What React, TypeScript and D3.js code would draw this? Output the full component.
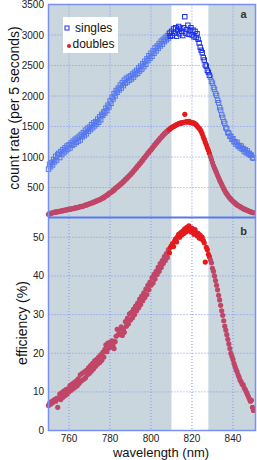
import React from 'react';
import * as d3 from 'd3';

// wavelength grid of the scan (nm)
const startNm = 750;
const stepNm = 0.5;

// singles counts per 5 s, 750 .. 850 nm
const singles = [
  800, 880, 840, 910, 870, 960, 920, 1010, 950, 1040,
  1060, 990, 1090, 1040, 1120, 1070, 1150, 1100, 1180, 1130,
  1200, 1150, 1230, 1190, 1260, 1210, 1290, 1240, 1310, 1260,
  1340, 1280, 1370, 1330, 1400, 1350, 1440, 1380, 1470, 1420,
  1490, 1450, 1530, 1480, 1560, 1510, 1580, 1540, 1620, 1570,
  1660, 1610, 1700, 1680, 1740, 1720, 1800, 1760, 1850, 1820,
  1920, 1880, 1980, 1950, 2040, 2000, 2090, 2060, 2130, 2100,
  2180, 2130, 2220, 2170, 2260, 2210, 2290, 2230, 2310, 2260,
  2330, 2280, 2360, 2310, 2390, 2350, 2420, 2370, 2460, 2410,
  2490, 2440, 2530, 2480, 2570, 2520, 2610, 2580, 2660, 2620,
  2700, 2650, 2740, 2700, 2790, 2740, 2820, 2780, 2860, 2820,
  2900, 2850, 2930, 2890, 2960, 2920, 2990, 2950, 3030, 2980,
  3060, 2990, 3100, 3030, 3120, 2980, 3080, 3140, 3020, 3110,
  3060, 2990, 3120, 3300, 3030, 3090, 3160, 3010, 3070, 3120,
  3000, 3080, 2970, 3060, 2960, 3020, 2930, 2870, 2800, 2750,
  2710, 2630, 2590, 2510, 2490, 2420, 2390, 2340, 2310, 2240,
  2210, 2140, 2110, 2040, 2010, 1930, 1890, 1810, 1770, 1690,
  1650, 1580, 1550, 1480, 1460, 1400, 1390, 1340, 1340, 1290,
  1300, 1250, 1250, 1210, 1240, 1180, 1190, 1150, 1180, 1130,
  1140, 1090, 1120, 1070, 1100, 1050, 1060, 1030, 1030, 990,
  980,
];

// doubles counts per 5 s
const doubles = [
  60, 75, 70, 80, 85, 90, 95, 100, 95, 105,
  110, 105, 115, 120, 118, 125, 130, 128, 135, 140,
  145, 142, 150, 155, 152, 160, 165, 170, 168, 175,
  180, 185, 190, 188, 195, 205, 210, 215, 220, 228,
  232, 240, 245, 250, 260, 265, 272, 280, 288, 295,
  300, 310, 318, 335, 330, 355, 360, 375, 380, 405,
  410, 425, 430, 455, 455, 485, 490, 510, 515, 540,
  545, 570, 575, 600, 605, 635, 640, 665, 675, 700,
  710, 735, 745, 775, 785, 815, 825, 855, 865, 895,
  905, 935, 945, 980, 990, 1020, 1035, 1065, 1075, 1105,
  1115, 1145, 1160, 1190, 1200, 1230, 1240, 1270, 1280, 1310,
  1320, 1345, 1355, 1385, 1390, 1415, 1420, 1445, 1450, 1470,
  1480, 1490, 1500, 1510, 1520, 1530, 1540, 1545, 1550, 1560,
  1555, 1565, 1570, 1700, 1575, 1580, 1570, 1585, 1575, 1560,
  1565, 1560, 1555, 1545, 1530, 1510, 1490, 1470, 1450, 1420,
  1380, 1330, 1290, 1240, 1200, 1150, 1110, 1060, 1010, 960,
  910, 860, 820, 780, 740, 700, 660, 620, 585, 550,
  515, 480, 450, 420, 395, 370, 348, 328, 308, 290,
  275, 260, 245, 230, 215, 205, 195, 185, 175, 165,
  155, 145, 140, 130, 125, 118, 110, 105, 95, 90,
  85,
];

// heralding efficiency (%)
const efficiency = [
  6.5, 7.0, 6.8, 7.5, 7.2, 7.8, 8.0, 7.6, 8.3, 6.0,
  8.2, 9.4, 8.0, 9.8, 8.6, 10.2, 9.0, 10.6, 9.4, 10.8,
  10.0, 11.6, 10.4, 12.0, 10.8, 12.4, 11.2, 12.8, 11.6, 13.4,
  12.2, 14.4, 12.8, 14.8, 13.2, 15.2, 13.6, 15.6, 14.4, 16.2,
  14.8, 16.8, 15.4, 17.4, 16.0, 18.0, 16.6, 18.4, 17.2, 19.0,
  17.6, 19.6, 18.2, 20.2, 19.0, 21.0, 22.2, 20.4, 22.6, 21.4,
  22.8, 21.6, 23.2, 22.0, 21.2, 23.0, 24.4, 26.2, 24.8, 26.0,
  25.0, 26.8, 24.6, 26.2, 25.4, 28.2, 27.0, 29.0, 27.6, 30.2,
  28.6, 30.6, 29.2, 31.4, 30.0, 32.2, 31.0, 33.0, 31.8, 34.0,
  32.6, 34.8, 33.6, 35.6, 34.4, 36.6, 35.2, 37.6, 36.4, 38.4,
  37.6, 39.6, 38.2, 40.4, 39.2, 41.2, 40.4, 42.2, 41.2, 43.2,
  42.2, 44.0, 43.2, 45.0, 44.0, 45.8, 44.8, 46.8, 46.0, 47.4,
  47.8, 48.4, 47.6, 49.0, 49.6, 48.8, 50.2, 50.8, 50.0, 51.2,
  50.6, 51.6, 51.0, 52.2, 51.4, 52.6, 51.8, 53.0, 52.0, 51.4,
  52.4, 51.6, 50.8, 52.0, 51.2, 50.4, 51.0, 49.8, 50.6, 49.6,
  50.0, 49.2, 48.6, 43.6, 47.4, 46.8, 45.6, 45.0, 44.2, 43.4,
  42.0, 41.2, 40.0, 38.8, 37.6, 36.4, 35.0, 33.8, 32.4, 31.0,
  29.8, 28.4, 27.0, 26.0, 24.8, 23.6, 22.4, 21.2, 20.0, 19.2,
  18.4, 17.4, 16.6, 15.8, 15.2, 14.4, 13.8, 13.0, 12.6, 12.0,
  11.8, 11.0, 10.6, 10.0, 9.4, 8.8, 8.2, 7.6, 7.8, 6.0,
  5.2,
];

const wavelengths = singles.map((_, i) => startNm + i * stepNm);

const xTicks = [760, 780, 800, 820, 840];
const countTicks = [500, 1000, 1500, 2000, 2500, 3000, 3500];
const effTicks = [0, 10, 20, 30, 40, 50];
const band = [810, 828]; // unshaded window
const peakZone = [809, 828.6]; // points drawn in the darker colours

const FONT = "'Liberation Sans', Arial, Helvetica, sans-serif";
const SHADE = '#c9d6de';
const FRAME = '#7890ee';
const GRID = '#8094f4';

export default function App() {
  const left = 48.5, right = 255.5;
  const x = d3.scaleLinear().domain([750, 851]).range([left, right]);
  const yTop = d3.scaleLinear().domain([0, 3500]).range([218, 4.5]);
  const yBot = d3.scaleLinear().domain([0, 55]).range([430.5, 218]);

  const inPeak = (w: number) => w >= peakZone[0] && w <= peakZone[1];

  const panel = (y: d3.ScaleLinear<number, number>, ticks: number[], skipTop: boolean) => {
    const [y0, y1] = y.range();
    return (
      <g>
        <rect x={left} y={y1} width={right - left} height={y0 - y1} fill={SHADE} />
        <rect x={x(band[0])} y={y1} width={x(band[1]) - x(band[0])} height={y0 - y1} fill="#fff" />
        {xTicks.map(t => (
          <line key={'v' + t} x1={x(t)} x2={x(t)} y1={y1} y2={y0} stroke={GRID} strokeWidth={1} strokeDasharray="1,2" />
        ))}
        {ticks.filter(t => t > 0 && !(skipTop && t === ticks[ticks.length - 1])).map(t => (
          <line key={'h' + t} x1={left} x2={right} y1={y(t)} y2={y(t)} stroke={GRID} strokeWidth={1} strokeDasharray="1,2" />
        ))}
        {ticks.map(t => (
          <text key={'l' + t} x={44} y={y(t)} dy="0.35em" textAnchor="end" fontSize={10} fill="#222" fontFamily={FONT}>{t}</text>
        ))}
      </g>
    );
  };

  return (
    <svg width={257} height={460} style={{ position: 'absolute', left: 0, top: 0 }}>
      <rect width={257} height={460} fill="#fff" />
      {panel(yTop, countTicks, true)}
      {panel(yBot, effTicks, false)}

      {/* singles: open squares */}
      {wavelengths.map((w, i) => (
        <rect key={'s' + i} x={x(w) - 2.2} y={yTop(singles[i]) - 2.2} width={4.4} height={4.4}
          fill="none" stroke={inPeak(w) ? '#1a2ee6' : '#5577ee'} strokeWidth={1} />
      ))}
      {/* doubles: filled dots */}
      {wavelengths.map((w, i) => (
        <circle key={'d' + i} cx={x(w)} cy={yTop(doubles[i])} r={2.6}
          fill={inPeak(w) ? '#e41a1c' : '#c04668'} />
      ))}
      {/* efficiency */}
      {wavelengths.map((w, i) => (
        <circle key={'e' + i} cx={x(w)} cy={yBot(efficiency[i])} r={2.6}
          fill={inPeak(w) ? '#e41a1c' : '#c04668'} />
      ))}

      {/* frames */}
      <rect x={left} y={4.5} width={right - left} height={426} fill="none" stroke={FRAME} strokeWidth={1.5} />
      <line x1={left} x2={right} y1={217.5} y2={217.5} stroke="#5a78ee" strokeWidth={2} />

      {/* legend */}
      <rect x={63} y={17} width={55} height={36} fill="#fff" />
      <rect x={65} y={26} width={4} height={4} fill="none" stroke="#1a2ee6" strokeWidth={1} />
      <text x={75} y={32} fontSize={12} fill="#111" fontFamily={FONT}>singles</text>
      <circle cx={69} cy={46} r={2} fill="#e41a1c" />
      <text x={72.5} y={48} fontSize={12} fill="#111" fontFamily={FONT}>doubles</text>

      <text x={243.5} y={18} textAnchor="middle" fontSize={11} fontWeight="bold" fill="#333" fontFamily={FONT}>a</text>
      <text x={243.5} y={235} textAnchor="middle" fontSize={11} fontWeight="bold" fill="#333" fontFamily={FONT}>b</text>

      {xTicks.map(t => (
        <text key={'x' + t} x={x(t)} y={442} textAnchor="middle" fontSize={10} fill="#222" fontFamily={FONT}>{t}</text>
      ))}

      <text transform="translate(19,108) rotate(-90)" textAnchor="middle" fontSize={14} fill="#111" fontFamily={FONT}>count rate (per 5 seconds)</text>
      <text transform="translate(27,323) rotate(-90)" textAnchor="middle" fontSize={14} fill="#111" fontFamily={FONT}>efficiency (%)</text>
      <text x={161} y={456.5} textAnchor="middle" fontSize={13} fill="#111" fontFamily={FONT}>wavelength (nm)</text>
    </svg>
  );
}
